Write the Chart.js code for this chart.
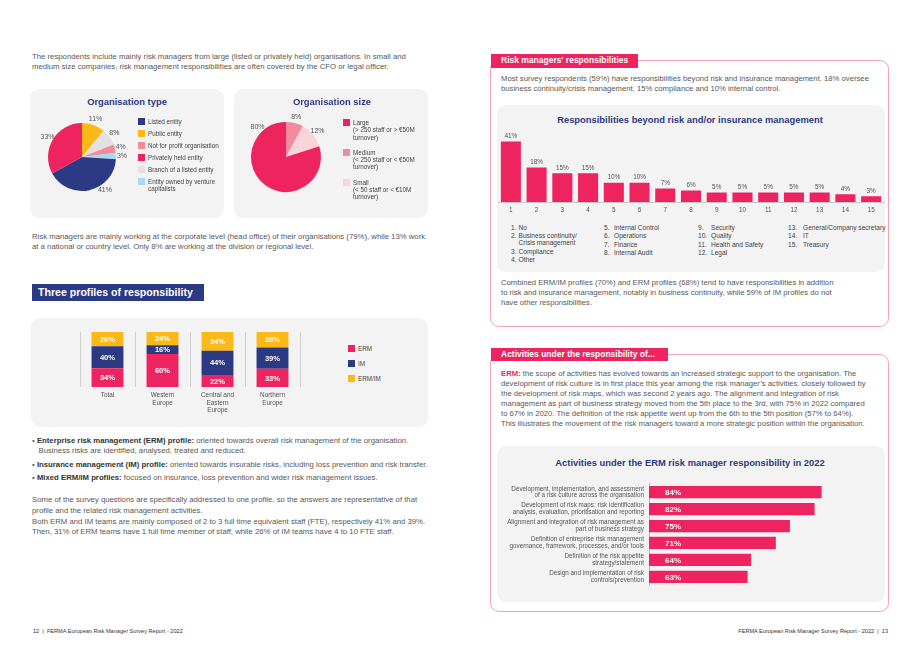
<!DOCTYPE html>
<html>
<head>
<meta charset="utf-8">
<script src="https://cdn.jsdelivr.net/npm/chart.js@4.4.1/dist/chart.umd.min.js"></script>
<style>
  body { margin:0; background:#fff; }
  #page { position:relative; width:920px; height:651px; overflow:hidden; font-family:"Liberation Sans", Arial, sans-serif; color:#555; }
  .abs { position:absolute; }
  .txt { position:absolute; font-size:7.75px; line-height:10px; white-space:nowrap; color:#585858; }
  .txtr { font-size:7.7px; }
  .panel { position:absolute; background:#f3f3f3; border-radius:9px; }
  .ptitle { position:absolute; font-weight:bold; color:#2b3a80; white-space:nowrap; transform:translateX(-50%); font-size:9.4px; }
  .box { position:absolute; border:1px solid #f6a3b5; border-radius:9px; }
  .hdr { position:absolute; background:#ee2461; color:#fff; font-weight:bold; white-space:nowrap; }
  .leg { position:absolute; font-size:6.3px; line-height:7.3px; color:#444; white-space:nowrap; }
  .leg i { position:absolute; left:-10px; top:0px; width:7px; height:7px; }
  .col { position:absolute; font-size:6.6px; line-height:7px; color:#444; white-space:nowrap; }
  .col div { position:relative; margin-bottom:1.5px; }
  .col span { position:absolute; left:0; }
  .chart { position:absolute; }
  b { color:#333; }
</style>
</head>
<body>
<div id="page">

  <!-- left page -->
  <div class="txt" style="left:32px;top:52px;">The respondents include mainly risk managers from large (listed or privately held) organisations. In small and<br>medium size companies, risk management responsibilities are often covered by the CFO or legal officer.</div>

  <div class="panel" style="left:30px;top:89px;width:194px;height:129px;"></div>
  <div class="ptitle" style="left:127px;top:96px;">Organisation type</div>
  <div class="chart" style="left:22px;top:107px;width:120px;height:100px;"><canvas id="pieType"></canvas></div>
  <div id="legType"></div>

  <div class="panel" style="left:234px;top:89px;width:194px;height:129px;"></div>
  <div class="ptitle" style="left:332px;top:96px;">Organisation size</div>
  <div class="chart" style="left:226px;top:107px;width:120px;height:100px;"><canvas id="pieSize"></canvas></div>
  <div id="legSize"></div>

  <div class="txt" style="left:32px;top:232px;">Risk managers are mainly working at the corporate level (head office) of their organisations (79%), while 13% work<br>at a national or country level. Only 8% are working at the division or regional level.</div>

  <div class="abs" style="left:32px;top:284px;width:172px;height:17px;background:#2b3a84;color:#fff;font-weight:bold;font-size:10.6px;line-height:17px;padding-left:6px;box-sizing:border-box;white-space:nowrap;">Three profiles of responsibility</div>

  <div class="panel" style="left:31px;top:318px;width:397px;height:109px;"></div>
  <div class="chart" style="left:70px;top:326px;width:240px;height:97px;"><canvas id="profiles"></canvas></div>
  <div id="legProf"></div>

  <div class="txt" style="left:32px;top:436px;">
    <div>• <b>Enterprise risk management (ERM) profile:</b> oriented towards overall risk management of the organisation.<br>&nbsp;&nbsp;&nbsp;Business risks are identified, analysed, treated and reduced.</div>
    <div style="margin-top:3.5px;">• <b>Insurance management (IM) profile:</b> oriented towards insurable risks, including loss prevention and risk transfer.</div>
    <div style="margin-top:3.5px;">• <b>Mixed ERM/IM profiles:</b> focused on insurance, loss prevention and wider risk management issues.</div>
  </div>

  <div class="txt" style="left:32px;top:495px;line-height:10.8px;">Some of the survey questions are specifically addressed to one profile, so the answers are representative of that<br>profile and the related risk management activities.<br>Both ERM and IM teams are mainly composed of 2 to 3 full time equivalent staff (FTE), respectively 41% and 39%.<br>Then, 31% of ERM teams have 1 full time member of staff, while 26% of IM teams have 4 to 10 FTE staff.</div>

  <div class="txt" style="left:33px;top:626px;font-size:5.6px;color:#333;">12&nbsp; |&nbsp; FERMA European Risk Manager Survey Report - 2022</div>

  <!-- right page -->
  <div class="box" style="left:490px;top:60px;width:397px;height:265px;"></div>
  <div class="hdr" style="left:491px;top:54px;width:147px;height:13.5px;font-size:8.5px;line-height:13.5px;padding-left:10px;box-sizing:border-box;">Risk managers' responsibilities</div>
  <div class="txt txtr" style="left:501px;top:74px;line-height:9.6px;">Most survey respondents (59%) have responsibilities beyond risk and insurance management. 18% oversee<br>business continuity/crisis management, 15% compliance and 10% internal control.</div>

  <div class="panel" style="left:497px;top:105px;width:388px;height:167px;"></div>
  <div class="ptitle" style="left:690px;top:113.5px;">Responsibilities beyond risk and/or insurance management</div>
  <div class="chart" style="left:497px;top:122px;width:388px;height:96px;"><canvas id="resp"></canvas></div>
  <div id="respList"></div>

  <div class="txt txtr" style="left:501px;top:278px;">Combined ERM/IM profiles (70%) and ERM profiles (68%) tend to have responsibilities in addition<br>to risk and insurance management, notably in business continuity, while 59% of IM profiles do not<br>have other responsibilities.</div>

  <div class="box" style="left:490px;top:354px;width:397px;height:256px;"></div>
  <div class="hdr" style="left:491px;top:348px;width:177px;height:13px;font-size:8.5px;line-height:13px;padding-left:10px;box-sizing:border-box;">Activities under the responsibility of...</div>
  <div class="txt txtr" style="left:501px;top:369px;"><b style="color:#ee2461;">ERM:</b> the scope of activities has evolved towards an increased strategic support to the organisation. The<br>development of risk culture is in first place this year among the risk manager’s activities, closely followed by<br>the development of risk maps, which was second 2 years ago. The alignment and integration of risk<br>management as part of business strategy moved from the 5th place to the 3rd, with 75% in 2022 compared<br>to 67% in 2020. The definition of the risk appetite went up from the 6th to the 5th position (57% to 64%).<br>This illustrates the movement of the risk managers toward a more strategic position within the organisation.</div>

  <div class="panel" style="left:497px;top:446px;width:388px;height:156px;"></div>
  <div class="ptitle" style="left:690px;top:456.5px;">Activities under the ERM risk manager responsibility in 2022</div>
  <div class="chart" style="left:499px;top:472px;width:386px;height:125px;"><canvas id="erm"></canvas></div>

  <div class="txt" style="left:600px;top:626px;width:288px;text-align:right;font-size:5.6px;color:#333;">FERMA European Risk Manager Survey Report - 2022&nbsp; |&nbsp; 13</div>
</div>

<script>
// ---- data ----
var typeLabels = ['Public entity', 'Branch of a listed entity', 'Not for profit organisation', 'Entity owned by venture capitalists', 'Listed entity', 'Privately held entity'];
var typeValues = [11, 8, 4, 3, 41, 33];
var typeLegendOrder = ['Listed entity', 'Public entity', 'Not for profit organisation', 'Privately held entity', 'Branch of a listed entity', 'Entity owned by venture capitalists'];

var sizeLabels = ['Medium', 'Small', 'Large'];
var sizeValues = [8, 12, 80];
var sizeLegendOrder = ['Large', 'Medium', 'Small'];
var sizeNotes = {'Large': ['(> 250 staff or > €50M', 'turnover)'], 'Medium': ['(< 250 staff or < €50M', 'turnover)'], 'Small': ['(< 50 staff or < €10M', 'turnover)']};

var regions = [['Total'], ['Western', 'Europe'], ['Central and', 'Eastern', 'Europe'], ['Northern', 'Europe']];
var ermShare = [34, 60, 22, 33];
var imShare = [40, 16, 44, 39];
var mixShare = [26, 24, 34, 28];

var respNumbers = ['1','2','3','4','5','6','7','8','9','10','11','12','13','14','15'];
var respValues = [41, 18, 15, 15, 10, 10, 7, 6, 5, 5, 5, 5, 5, 4, 3];
var respNames = ['No', 'Business continuity/\nCrisis management', 'Compliance', 'Other', 'Internal Control', 'Operations', 'Finance', 'Internal Audit', 'Security', 'Quality', 'Health and Safety', 'Legal', 'General/Company secretary', 'IT', 'Treasury'];

var activityLabels = [
  ['Development, implementation, and assessment', 'of a risk culture across the organisation'],
  ['Development of risk maps: risk identification', 'analysis, evaluation, prioritisation and reporting'],
  ['Alignment and integration of risk management as', 'part of business strategy'],
  ['Definition of entreprise risk management', 'governance, framework, processes, and/or tools'],
  ['Definition of the risk appetite', 'strategy/statement'],
  ['Design and implementation of risk', 'controls/prevention']
];
var activityValues = [84, 82, 75, 71, 64, 63];

// ---- colours ----
var RED = '#ee2461', NAVY = '#2b3a82', YELLOW = '#fbb817';
var typeColors = {'Listed entity': NAVY, 'Public entity': YELLOW, 'Not for profit organisation': '#f48a9e', 'Privately held entity': RED, 'Branch of a listed entity': '#e2e2e2', 'Entity owned by venture capitalists': '#a8dbf3'};
var sizeColors = {'Large': RED, 'Medium': '#f48a9e', 'Small': '#fbd3da'};

Chart.defaults.font.family = '"Liberation Sans", Arial, sans-serif';
Chart.defaults.animation = false;
Chart.defaults.plugins.legend.display = false;
Chart.defaults.plugins.tooltip.enabled = false;
Chart.defaults.maintainAspectRatio = false;

var pieLabels = {
  id: 'pieLabels',
  afterDatasetsDraw: function (chart, args, opts) {
    var ctx = chart.ctx;
    var meta = chart.getDatasetMeta(0);
    ctx.save();
    ctx.font = '7px "Liberation Sans", Arial';
    ctx.fillStyle = '#555';
    ctx.textAlign = 'center';
    ctx.textBaseline = 'middle';
    meta.data.forEach(function (arc, i) {
      var a = (arc.startAngle + arc.endAngle) / 2;
      if (opts.angles && opts.angles[i] != null) a = opts.angles[i] * Math.PI / 180 - Math.PI / 2;
      var r = arc.outerRadius + opts.offset;
      ctx.fillText(chart.data.datasets[0].data[i] + '%', arc.x + Math.cos(a) * r, arc.y + Math.sin(a) * r);
    });
    ctx.restore();
  }
};

function makePie(id, labels, values, colors, pad, angles) {
  new Chart(document.getElementById(id), {
    type: 'pie',
    data: { labels: labels, datasets: [{ data: values, backgroundColor: labels.map(function (l) { return colors[l]; }), borderWidth: 0 }] },
    options: {
      layout: { padding: pad },
      plugins: { pieLabels: { offset: 6, angles: angles } }
    },
    plugins: [pieLabels]
  });
}

makePie('pieType', typeLabels, typeValues, typeColors, { top: 16, bottom: 16, left: 26, right: 26 }, { 4: 145 });
makePie('pieSize', sizeLabels, sizeValues, sizeColors, { top: 15, bottom: 15, left: 25, right: 25 }, { 2: -44 });

// html legends
function legend(el, items, colors, x, y0, step, notes) {
  var html = '';
  items.forEach(function (l, i) {
    var lines = [l];
    if (l === 'Entity owned by venture capitalists') lines = ['Entity owned by venture', 'capitalists'];
    if (notes && notes[l]) lines = lines.concat(notes[l]);
    html += '<div class="leg" style="left:' + x + 'px;top:' + (y0 + i * step - 3.6) + 'px;"><i style="background:' + colors[l] + '"></i>' + lines.join('<br>') + '</div>';
  });
  document.getElementById(el).innerHTML = html;
}
legend('legType', typeLegendOrder, typeColors, 148, 122, 11.9);
legend('legSize', sizeLegendOrder, sizeColors, 353, 122.7, 29.7, sizeNotes);
legend('legProf', ['ERM', 'IM', 'ERM/IM'], {'ERM': RED, 'IM': NAVY, 'ERM/IM': YELLOW}, 358, 349, 14.8);

// stacked profiles
var stackLabels = {
  id: 'stackLabels',
  afterDatasetsDraw: function (chart) {
    var ctx = chart.ctx;
    ctx.save();
    ctx.font = 'bold 7.6px "Liberation Sans", Arial';
    ctx.fillStyle = '#fff';
    ctx.textAlign = 'center';
    ctx.textBaseline = 'middle';
    chart.data.datasets.forEach(function (ds, d) {
      chart.getDatasetMeta(d).data.forEach(function (bar, i) {
        ctx.fillText(ds.data[i] + '%', bar.x, (bar.y + bar.base) / 2 + 0.5);
      });
    });
    ctx.restore();
  }
};

new Chart(document.getElementById('profiles'), {
  type: 'bar',
  data: {
    labels: regions,
    datasets: [
      { label: 'ERM', data: ermShare, backgroundColor: RED },
      { label: 'IM', data: imShare, backgroundColor: NAVY },
      { label: 'ERM/IM', data: mixShare, backgroundColor: YELLOW }
    ]
  },
  options: {
    layout: { padding: { left: 10, right: 10, top: 6, bottom: 0 } },
    datasets: { bar: { barPercentage: 0.58, categoryPercentage: 1, borderWidth: 0 } },
    scales: {
      x: {
        stacked: true,
        grid: { display: true, offset: true, color: '#cfcfcf', drawTicks: false },
        border: { display: false },
        ticks: { color: '#555', font: { size: 6.4, lineHeight: 1.15 }, padding: 5 },
        afterFit: function (s) { s.height = 36; }
      },
      y: { stacked: true, display: false, min: 0, max: 100 }
    }
  },
  plugins: [stackLabels]
});

// responsibilities bar chart
var topLabels = {
  id: 'topLabels',
  afterDatasetsDraw: function (chart) {
    var ctx = chart.ctx;
    var area = chart.chartArea;
    ctx.save();
    ctx.font = '6.4px "Liberation Sans", Arial';
    ctx.fillStyle = '#555';
    ctx.textAlign = 'center';
    ctx.textBaseline = 'bottom';
    chart.getDatasetMeta(0).data.forEach(function (bar, i) {
      ctx.fillText(chart.data.datasets[0].data[i] + '%', bar.x, Math.max(bar.y, area.top) - 2);
    });
    ctx.restore();
  }
};

new Chart(document.getElementById('resp'), {
  type: 'bar',
  data: { labels: respNumbers, datasets: [{ data: respValues, backgroundColor: RED, borderWidth: 0 }] },
  options: {
    layout: { padding: { left: 1, right: 1, top: 19.5, bottom: 0 } },
    datasets: { bar: { barPercentage: 0.78, categoryPercentage: 1 } },
    scales: {
      x: {
        grid: { display: false, drawTicks: false },
        border: { display: true, color: '#c9c9c9', width: 1 },
        ticks: { color: '#555', font: { size: 6.4 }, padding: 4 },
        afterFit: function (s) { s.height = 16; }
      },
      y: { display: false, min: 0, max: 31.5 }
    }
  },
  plugins: [topLabels]
});

// list of responsibilities
(function () {
  var cols = [[0, 4, 511, 7.5], [4, 8, 604, 10], [8, 12, 698, 13], [12, 15, 788, 15]];
  var html = '';
  cols.forEach(function (c) {
    html += '<div class="col" style="left:' + c[2] + 'px;top:223.5px;">';
    for (var i = c[0]; i < c[1]; i++) {
      html += '<div style="padding-left:' + c[3] + 'px;"><span>' + (i + 1) + '.</span>' + respNames[i].replace('\n', '<br>') + '</div>';
    }
    html += '</div>';
  });
  document.getElementById('respList').innerHTML = html;
})();

// ERM activities
var inLabels = {
  id: 'inLabels',
  afterDatasetsDraw: function (chart) {
    var ctx = chart.ctx;
    ctx.save();
    ctx.font = 'bold 8px "Liberation Sans", Arial';
    ctx.fillStyle = '#fff';
    ctx.textAlign = 'left';
    ctx.textBaseline = 'middle';
    chart.getDatasetMeta(0).data.forEach(function (bar, i) {
      ctx.fillText(chart.data.datasets[0].data[i] + '%', chart.chartArea.left + 16, bar.y + 0.5);
    });
    ctx.restore();
  }
};

new Chart(document.getElementById('erm'), {
  type: 'bar',
  data: { labels: activityLabels, datasets: [{ data: activityValues, backgroundColor: RED, borderWidth: 0 }] },
  options: {
    indexAxis: 'y',
    layout: { padding: { left: 0, right: 7, top: 2.5, bottom: 2.5 } },
    datasets: { bar: { barPercentage: 0.72, categoryPercentage: 1 } },
    scales: {
      x: { display: false, min: 35, max: 100 },
      y: {
        grid: { display: false, drawTicks: false },
        border: { display: true, color: '#b5b5b5', width: 1 },
        ticks: { color: '#555', font: { size: 6.3, lineHeight: 1.07 }, padding: 5 },
        afterFit: function (s) { s.width = 150; }
      }
    }
  },
  plugins: [inLabels]
});
</script>
</body>
</html>
